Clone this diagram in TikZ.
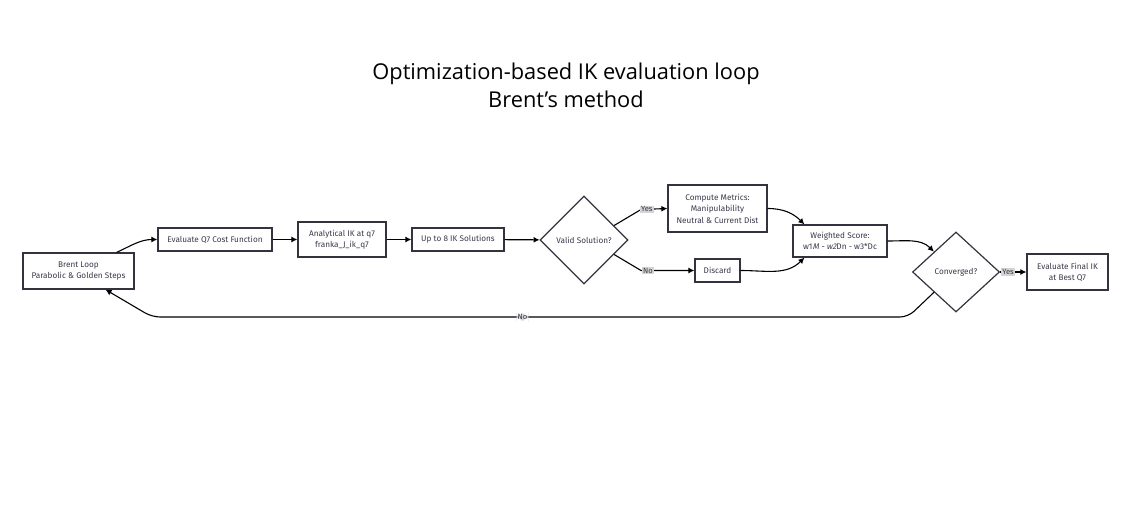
\documentclass[tikz,border=0pt]{standalone}
\usepackage{fontspec}
\setmainfont{Fira Sans}
\newfontfamily\titlefont{Open Sans}
\newfontfamily\slantfont{Fira Sans}[FakeSlant=0.2]
\usetikzlibrary{shapes.geometric,arrows.meta,calc}
\definecolor{boxc}{HTML}{333340}
\definecolor{txt}{HTML}{3A3A4C}
\definecolor{lblc}{HTML}{D4D4D4}
\begin{document}
\begin{tikzpicture}[x=1pt,y=-1pt,
 box/.style={draw=boxc, line width=1.2pt, fill=white, align=center,
   font=\fontsize{8.2}{11.5}\selectfont, text=txt, inner sep=0pt},
 dia/.style={draw=boxc, line width=1.2pt, fill=white, diamond, align=center,
   font=\fontsize{8.2}{11.5}\selectfont, text=txt, inner sep=0pt},
 arr/.style={draw=black, line width=1.1pt, -{Latex[length=6pt,width=6pt]}},
 lbl/.style={fill=lblc, font=\fontsize{7.6}{8}\selectfont, text=txt, inner sep=1pt}
]
\useasboundingbox (0,0) rectangle (1146,522);

\node[font=\titlefont\fontsize{21.8}{28}\selectfont, align=center] (title) at (566,85)
  {Optimization-based IK evaluation loop\\Brent’s method};

\node[box, minimum width=111, minimum height=36] (brent) at (78.5,271)
  {Brent Loop\\Parabolic \& Golden Steps};
\node[box, minimum width=114, minimum height=23] (eval) at (215,239.5)
  {Evaluate Q7 Cost Function};
\node[box, minimum width=88, minimum height=35] (anik) at (342,239.5)
  {Analytical IK at q7\\franka\_J\_ik\_q7};
\node[box, minimum width=92, minimum height=23] (upto) at (458,239.5)
  {Up to 8 IK Solutions};
\node[dia, minimum width=88, minimum height=88] (valid) at (584,240)
  {Valid Solution?};
\node[box, minimum width=99, minimum height=47] (compute) at (717.5,208.5)
  {Compute Metrics:\\Manipulability\\Neutral \& Current Dist};
\node[box, minimum width=45, minimum height=23] (discard) at (717.5,270.5)
  {Discard};
\node[box, minimum width=94, minimum height=32] (score) at (840,241)
  {Weighted Score:\\w1{\slantfont M - w2}Dn - w3*Dc};
\node[dia, minimum width=87, minimum height=80] (conv) at (956,272)
  {Converged?};
\node[box, minimum width=81, minimum height=36] (final) at (1067.5,272)
  {Evaluate Final IK\\at Best Q7};

\draw[arr] ([xshift=-18pt]brent.north east) to[out=25,in=180] (eval.west);
\draw[arr] (eval) -- (anik);
\draw[arr] (anik) -- (upto);
\draw[arr] (upto) -- (valid);
\coordinate (vy) at ($(valid.north east)!0.35!(valid.east)$);
\coordinate (vn) at ($(valid.south east)!0.35!(valid.east)$);
\draw[arr] (vy) -- (641,209.5) -- node[lbl, pos=0.22] {Yes} (compute.west);
\draw[arr] (vn) -- (641,270.5) -- node[lbl, pos=0.13] {No} (discard.west);
\draw[arr] (compute.east) to[out=0,in=135] ([xshift=12pt]score.north west);
\draw[arr] (discard.east) to[out=0,in=225] ([xshift=12pt]score.south west);
\draw[arr] (score.east) to[out=0,in=135] (conv.north west);
\draw[arr] (conv.east) -- node[lbl, pos=0.3] {Yes} (final.west);
\draw[arr, rounded corners=8pt] (conv.south west) -- (908,317)
  -- node[lbl, pos=0.51] {No} (152,317) -- ([xshift=27pt]brent.south);
\end{tikzpicture}
\end{document}
